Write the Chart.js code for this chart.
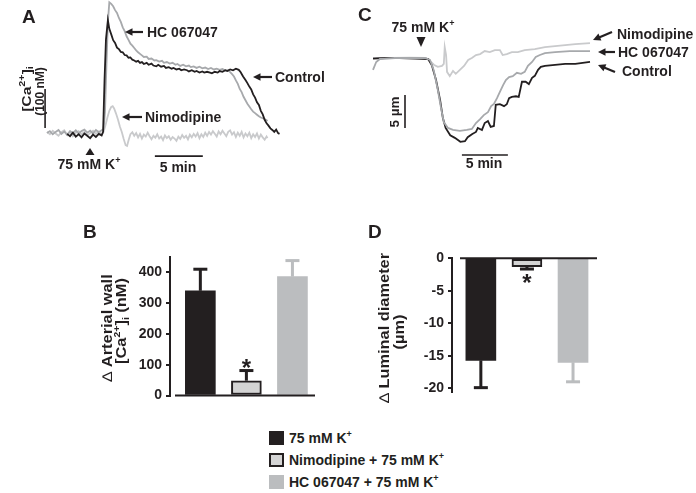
<!DOCTYPE html>
<html>
<head>
<meta charset="utf-8">
<title>K+ response, [Ca2+]i and luminal diameter</title>
<script src="https://cdn.jsdelivr.net/npm/chart.js@4.4.0/dist/chart.umd.min.js"></script>
<style>
    html, body { margin: 0; padding: 0; background: #fff; }
    #fig { position: relative; width: 696px; height: 493px; overflow: hidden; color: #231f20;
           font-family: 'Liberation Sans', Arial, Helvetica, sans-serif; }
    #fig canvas { position: absolute; }
    #cA { left: 0; top: 0; }
    #cC { left: 340px; top: 0; }
    #cB { left: 60px; top: 220px; }
    #cD { left: 340px; top: 220px; }
    .sw { position: absolute; left: 269px; width: 15px; height: 14px; box-sizing: border-box; }
    .lt { position: absolute; left: 289px; font-size: 14px; font-weight: bold; line-height: 16px; white-space: nowrap; }
    .sp { font-size: 9px; line-height: 0; position: relative; top: -6px; }
</style>
</head>
<body>
<div id="fig">
    <canvas id="cA" width="340" height="180"></canvas>
    <canvas id="cC" width="356" height="180"></canvas>
    <canvas id="cB" width="280" height="200"></canvas>
    <canvas id="cD" width="340" height="200"></canvas>
    <div id="legend"></div>
</div>
<script>
// ---- data -------------------------------------------------------------
// groups (bars in B and D, legend)
const groupNames = ['75 mM K+', 'Nimodipine + 75 mM K+', 'HC 067047 + 75 mM K+'];

// B: delta arterial wall [Ca2+]i (nM), mean and SEM
const caB = [340, 48, 386];
const caErrB = [70, 33, 52];
const ticksB = [0, 100, 200, 300, 400];

// D: delta luminal diameter (um), mean and SEM
const diamD = [-15.7, -1.3, -16.0];
const diamErrD = [4.2, 0.35, 3.0];
const ticksD = [0, -5, -10, -15, -20];

// A: [Ca2+]i traces, [time (min), delta nM]
const ctrlA = [[2.1,3],[2.4,-3],[2.7,6],[3.0,-4],[3.3,2],[3.6,-6],[3.9,4],[4.2,-2],[4.5,-8],[4.8,1],[5.1,-5],[5.4,3],[5.7,-1],[5.85,8],
    [6.0,140],[6.15,245],[6.35,294],[6.5,272],[6.7,258],[6.9,243],[7.1,236],[7.3,224],[7.5,220],[7.7,213],[7.9,212],[8.1,205],[8.3,204],
    [8.5,198],[8.7,199],[8.9,193],[9.1,191],[9.3,188],[9.5,190],[9.7,185],[9.9,187],[10.1,182],[10.4,185],[10.6,180],[10.9,183],
    [11.1,178],[11.4,176],[11.6,180],[11.9,175],[12.2,177],[12.4,172],[12.7,174],[13.0,170],[13.2,172],[13.5,168],[13.8,170],[14.0,166],
    [14.3,168],[14.6,166],[14.8,163],[15.1,166],[15.4,162],[15.6,164],[15.9,160],[16.2,163],[16.4,160],[16.7,162],[17.0,160],[17.2,158],
    [17.5,162],[17.8,160],[18.0,164],[18.3,162],[18.6,166],[18.8,164],[19.1,168],[19.4,166],[19.7,170],[20.0,167],[20.2,161],[20.45,150],
    [20.7,141],[20.9,133],[21.1,124],[21.3,117],[21.5,104],[21.7,96],[21.9,84],[22.1,77],[22.3,62],[22.5,53],[22.7,39],[22.9,30],
    [23.1,24],[23.3,17],[23.5,13],[23.7,8],[23.9,14],[24.1,5],[24.25,3]];
const hcA = [[0.0,5],[0.3,10],[0.6,2],[0.9,8],[1.2,13],[1.5,3],[1.8,9],[2.1,0],[2.4,10],[2.7,5],[3.0,12],[3.3,4],[3.6,10],[3.9,14],
    [4.2,6],[4.5,11],[4.8,4],[5.1,13],[5.4,7],[5.7,12],[5.9,15],[6.05,60],[6.2,180],[6.35,290],[6.5,340],[6.7,336],[6.9,330],[7.1,320],
    [7.3,313],[7.5,300],[7.7,290],[7.9,276],[8.1,266],[8.3,253],[8.5,244],[8.7,234],[8.9,229],[9.1,223],[9.3,217],[9.5,212],[9.7,208],
    [9.9,204],[10.1,200],[10.4,201],[10.6,195],[10.9,196],[11.2,191],[11.4,192],[11.7,188],[12.0,190],[12.2,185],[12.5,187],[12.8,183],
    [13.1,185],[13.4,180],[13.6,182],[13.9,177],[14.2,180],[14.5,176],[14.8,178],[15.0,174],[15.3,176],[15.6,172],[15.9,175],[16.2,171],
    [16.5,173],[16.8,169],[17.1,172],[17.4,168],[17.7,170],[18.0,167],[18.3,169],[18.6,165],[18.9,166],[19.1,161],[19.3,156],[19.5,150],
    [19.7,140],[19.9,131],[20.1,118],[20.3,110],[20.5,98],[20.7,89],[20.9,80],[21.1,73],[21.3,66],[21.5,60],[21.7,56],[21.9,52],[22.1,48],
    [22.3,45],[22.5,43],[22.7,41],[22.9,38],[23.0,36]];
const nimoA = [[0.0,8],[0.3,2],[0.6,11],[0.9,4],[1.2,-2],[1.5,7],[1.8,12],[2.1,1],[2.4,9],[2.7,-3],[3.0,6],[3.3,10],[3.6,2],[3.9,8],
    [4.2,-1],[4.5,5],[4.8,11],[5.1,3],[5.4,9],[5.7,0],[5.9,8],[6.1,25],[6.3,45],[6.5,62],[6.7,72],[6.85,74],[7.0,68],[7.2,55],[7.4,40],
    [7.6,22],[7.8,8],[8.0,-10],[8.2,-26],[8.35,-28],[8.5,-14],[8.7,2],[8.9,7],[9.1,-2],[9.3,5],[9.5,-6],[9.7,3],[9.9,-9],[10.1,1],[10.3,-4],
    [10.5,6],[10.7,-3],[10.9,-11],[11.1,-2],[11.3,-7],[11.5,2],[11.7,-9],[11.9,-4],[12.1,-13],[12.3,-1],[12.5,-8],[12.7,-3],[12.9,-12],
    [13.1,-5],[13.3,-9],[13.5,-15],[13.7,-4],[13.9,-10],[14.1,0],[14.3,-7],[14.5,-2],[14.7,-11],[14.9,1],[15.1,-6],[15.3,3],[15.5,-4],
    [15.7,5],[15.9,-8],[16.1,2],[16.3,-5],[16.5,6],[16.7,-2],[16.9,8],[17.1,1],[17.3,10],[17.5,3],[17.7,-4],[17.9,9],[18.1,2],[18.3,11],
    [18.5,4],[18.7,-3],[18.9,8],[19.1,12],[19.3,1],[19.5,7],[19.7,-5],[19.9,6],[20.1,-2],[20.3,8],[20.5,-6],[20.7,4],[20.9,-3],[21.1,6],
    [21.3,-8],[21.5,2],[21.7,-5],[21.9,4],[22.1,-9],[22.3,1],[22.5,-6],[22.7,-12],[22.9,-4],[23.0,-8]];

// C: diameter traces, [time (min), delta um]
const ctrlC = [[0.0,-0.1],[1.3,0],[2.9,0],[4.6,-0.1],[6.0,-0.15],[6.4,-1.1],[6.85,-3.3],[7.3,-6.4],[7.6,-9.1],[7.9,-10.6],[8.4,-11.7],
    [8.9,-12.1],[9.2,-12.4],[9.5,-12.7],[10.0,-12.6],[10.3,-12.0],[10.8,-11.5],[11.2,-11.2],[11.4,-10.6],[11.85,-10.9],[12.15,-9.85],
    [12.5,-9.55],[12.8,-10.45],[13.15,-10.3],[13.35,-7.1],[13.8,-7.0],[14.25,-7.3],[14.55,-7.0],[14.8,-6.1],[15.1,-5.9],[15.55,-5.8],
    [15.85,-5.9],[16.2,-3.6],[16.6,-3.6],[16.95,-3.95],[17.3,-3.0],[17.6,-2.7],[17.95,-1.8],[18.25,-1.35],[18.7,-1.2],[19.8,-1.05],
    [20.9,-0.9],[22.0,-0.9],[22.8,-0.75],[23.6,-0.6]];
const hcC = [[0.0,-1.8],[0.35,-0.6],[0.75,-0.15],[2.4,0],[4.0,0],[5.65,0],[6.2,-0.3],[6.6,-1.8],[7.05,-4.85],[7.4,-7.6],[7.7,-9.7],
    [8.15,-10.6],[8.7,-10.9],[9.45,-11.05],[10.2,-10.9],[10.75,-10.75],[11.2,-9.85],[11.65,-9.25],[12.05,-8.65],[12.5,-8.2],[12.85,-7.3],
    [13.15,-6.95],[13.5,-6.05],[13.8,-5.15],[14.15,-4.1],[14.45,-3.35],[14.8,-2.9],[15.2,-2.75],[15.65,-2.25],[16.1,-2.4],[16.5,-2.1],
    [16.85,-1.2],[17.3,-0.6],[17.7,0.15],[18.15,0.45],[18.7,0.75],[19.8,0.9],[21.4,1.05],[23.6,1.05]];
const nimoC = [[0.0,0],[1.85,0],[4.0,0.05],[5.75,0],[6.2,-0.45],[6.65,-1.05],[7.05,-1.35],[7.5,-1.2],[7.7,-0.9],[7.8,1.65],[7.95,0.45],
    [8.05,-2.1],[8.35,-2.75],[8.7,-1.95],[9.0,-2.4],[9.45,-1.8],[9.9,-1.2],[10.35,-0.3],[10.75,0],[11.2,0.45],[11.65,0.6],[12.15,1.05],
    [12.7,0.9],[13.25,1.2],[13.8,1.2],[14.1,0.45],[14.55,0.6],[15.1,0.9],[15.75,0.9],[16.5,1.2],[17.6,1.35],[18.7,1.65],[19.8,1.8],
    [20.9,1.95],[22.0,2.1],[23.6,2.25]];

// ---- styling ----------------------------------------------------------
const INK = '#231f20', MID = '#a7a9ac', PALE = '#c9cacc';
const FILLS = [INK, '#d4d4d4', '#bbbdbf'];
const EDGES = [INK, INK, '#bbbdbf'];
const FONT = "'Liberation Sans', Arial, Helvetica, sans-serif";

Chart.defaults.font.family = FONT;
Chart.defaults.color = INK;

// text with optional sup/sub pieces; parts: 'txt' or ['txt', 'sup'|'sub'|'thin']
function rich(ctx, parts, x, y, size, align, supRatio) {
    const r = supRatio || 0.62;
    const kind = p => (Array.isArray(p) ? p[1] : '');
    const str = p => (Array.isArray(p) ? p[0] : p);
    const fontOf = k => (k === 'thin' ? '' : 'bold ') +
        (k === 'sup' || k === 'sub' ? Math.round(size * r) : size) + 'px ' + FONT;
    let w = 0;
    parts.forEach(p => { ctx.font = fontOf(kind(p)); w += ctx.measureText(str(p)).width; });
    let cx = align === 'center' ? x - w / 2 : (align === 'right' ? x - w : x);
    ctx.textAlign = 'left';
    ctx.textBaseline = 'alphabetic';
    parts.forEach(p => {
        const k = kind(p);
        ctx.font = fontOf(k);
        const dy = k === 'sup' ? -size * 0.42 : (k === 'sub' ? size * 0.22 : 0);
        ctx.fillText(str(p), cx, y + dy);
        cx += ctx.measureText(str(p)).width;
    });
}

// rotated (bottom to top); x is the baseline, y the centre; stretch along the text
function vrich(ctx, parts, x, y, size, stretch, supRatio) {
    ctx.save();
    ctx.translate(x, y);
    ctx.rotate(-Math.PI / 2);
    ctx.scale(stretch || 1, 1);
    rich(ctx, parts, 0, 0, size, 'center', supRatio);
    ctx.restore();
}

function line(ctx, x1, y1, x2, y2, w) {
    ctx.lineWidth = w || 1.6;
    ctx.beginPath();
    ctx.moveTo(x1, y1);
    ctx.lineTo(x2, y2);
    ctx.stroke();
}

// tail (x1,y1) -> head (x2,y2)
function arrow(ctx, x1, y1, x2, y2) {
    const a = Math.atan2(y2 - y1, x2 - x1), L = 7.5, W = 3.8;
    line(ctx, x1, y1, x2 - Math.cos(a) * 4, y2 - Math.sin(a) * 4, 2.2);
    ctx.beginPath();
    ctx.moveTo(x2, y2);
    ctx.lineTo(x2 - L * Math.cos(a) + W * Math.sin(a), y2 - L * Math.sin(a) - W * Math.cos(a));
    ctx.lineTo(x2 - L * Math.cos(a) - W * Math.sin(a), y2 - L * Math.sin(a) + W * Math.cos(a));
    ctx.closePath();
    ctx.fill();
}

function tri(ctx, x, tipY, baseY) {
    ctx.beginPath();
    ctx.moveTo(x, tipY);
    ctx.lineTo(x - 4.5, baseY);
    ctx.lineTo(x + 4.5, baseY);
    ctx.closePath();
    ctx.fill();
}

const K75 = ['75 mM K', ['+', 'sup']];

function trace(arr, color) {
    return {
        data: arr.map(p => ({ x: p[0], y: p[1] })),
        borderColor: color, borderWidth: 1.8, pointRadius: 0,
        tension: 0, fill: false, clip: 8
    };
}

function traceOptions(padding, xr, yr) {
    return {
        responsive: false, animation: false, events: [],
        layout: { padding: padding },
        plugins: { legend: { display: false }, tooltip: { enabled: false } },
        scales: {
            x: { type: 'linear', display: false, min: xr[0], max: xr[1] },
            y: { type: 'linear', display: false, min: yr[0], max: yr[1] }
        }
    };
}

// ---- A: [Ca2+]i traces ------------------------------------------------
const notesA = {
    id: 'notesA',
    afterDraw(chart) {
        const { ctx, scales: { x, y } } = chart;
        ctx.save();
        ctx.fillStyle = INK;
        ctx.strokeStyle = INK;
        rich(ctx, ['A'], 22, 23, 19);
        // scale bars: 5 min, 100 nM
        line(ctx, x.getPixelForValue(11.25), y.getPixelForValue(-54), x.getPixelForValue(16.25), y.getPixelForValue(-54));
        line(ctx, x.getPixelForValue(-0.2), y.getPixelForValue(18), x.getPixelForValue(-0.2), y.getPixelForValue(118));
        rich(ctx, ['5 min'], 178, 172, 14, 'center');
        vrich(ctx, ['[Ca', ['2+', 'sup'], ']', ['i', 'sub']], 30.5, 89, 13, 1.2, 0.72);
        vrich(ctx, ['(100 nM)'], 43.5, 91.5, 12);
        tri(ctx, 90, 148, 155);
        rich(ctx, K75, 89, 169, 14, 'center');
        arrow(ctx, 143, 32, 125, 32);
        rich(ctx, ['HC 067047'], 147, 37, 14);
        arrow(ctx, 272, 77, 253, 77);
        rich(ctx, ['Control'], 275, 82, 14);
        arrow(ctx, 142, 117, 122, 117);
        rich(ctx, ['Nimodipine'], 145, 122, 14);
        ctx.restore();
    }
};

new Chart(document.getElementById('cA'), {
    type: 'line',
    data: { datasets: [trace(ctrlA, INK), trace(hcA, MID), trace(nimoA, PALE)] },
    options: traceOptions({ left: 47, right: 60, top: 0, bottom: 20 }, [0, 24.3], [-64, 346]),
    plugins: [notesA]
});

// ---- C: diameter traces -----------------------------------------------
const notesC = {
    id: 'notesC',
    afterDraw(chart) {
        const { ctx, scales: { x, y } } = chart;
        ctx.save();
        ctx.fillStyle = INK;
        ctx.strokeStyle = INK;
        rich(ctx, ['C'], 18, 21, 19);
        rich(ctx, K75, 83, 32, 14, 'center');
        tri(ctx, 81, 47, 37);
        // scale bars: 5 min, 5 um
        line(ctx, x.getPixelForValue(9.67), y.getPixelForValue(-14.7), x.getPixelForValue(14.67), y.getPixelForValue(-14.7));
        line(ctx, x.getPixelForValue(3.48), y.getPixelForValue(-10.6), x.getPixelForValue(3.48), y.getPixelForValue(-5.6));
        rich(ctx, ['5 min'], 144, 168, 14, 'center');
        vrich(ctx, ['5 \u00b5m'], 59, 112, 13.5);
        arrow(ctx, 272, 32, 253, 40);
        rich(ctx, ['Nimodipine'], 277, 39, 14);
        arrow(ctx, 275, 52, 258, 52);
        rich(ctx, ['HC 067047'], 278, 57, 14);
        arrow(ctx, 275, 72, 258, 65);
        rich(ctx, ['Control'], 282, 76, 14);
        ctx.restore();
    }
};

new Chart(document.getElementById('cC'), {
    type: 'line',
    data: { datasets: [trace(hcC, MID), trace(ctrlC, INK), trace(nimoC, PALE)] },
    options: traceOptions({ left: 33, right: 106, top: 31.6, bottom: 23 }, [0, 23.6], [-15, 4]),
    plugins: [notesC]
});

// ---- B and D: bar charts ----------------------------------------------
// error bars, star, baseline and titles
const barNotes = {
    id: 'barNotes',
    afterDatasetsDraw(chart, args, o) {
        const { ctx, chartArea, scales: { y } } = chart;
        const meta = chart.getDatasetMeta(0);
        const ds = chart.data.datasets[0];
        ctx.save();
        meta.data.forEach((bar, i) => {
            const v = ds.data[i].y;
            const end = v + Math.sign(v) * o.err[i];
            const y0 = y.getPixelForValue(v), y1 = y.getPixelForValue(end);
            ctx.strokeStyle = EDGES[i];
            line(ctx, bar.x, y0, bar.x, y1, 3);
            line(ctx, bar.x - 7, y1, bar.x + 7, y1, 3);
            if (i === o.star) {
                ctx.fillStyle = INK;
                rich(ctx, ['*'], bar.x, y1 + o.starDy, 24, 'center');
            }
        });
        ctx.strokeStyle = INK;
        const y0 = y.getPixelForValue(0);
        line(ctx, chartArea.left + o.gap, y0, chartArea.right, y0, 2);
        ctx.fillStyle = INK;
        rich(ctx, [o.letter], o.letterX, 18, 19);
        o.titles.forEach(t => vrich(ctx, t.parts, t.x, t.y, 14, 1.17));
        ctx.restore();
    }
};

function barConfig(values, ticks, yr, xr, yWidth, padding, notes) {
    return {
        type: 'bar',
        data: {
            labels: groupNames,
            datasets: [{
                data: values.map((v, i) => ({ x: i + 1, y: v })),
                backgroundColor: FILLS,
                borderColor: INK,
                borderWidth: [0, 2, 0],
                borderSkipped: false,
                barThickness: 30
            }]
        },
        options: {
            responsive: false, animation: false, events: [],
            layout: { padding: padding },
            plugins: { legend: { display: false }, tooltip: { enabled: false }, barNotes: notes },
            scales: {
                x: { type: 'linear', display: false, offset: false, bounds: 'data', min: xr[0], max: xr[1] },
                y: {
                    min: yr[0], max: yr[1],
                    afterFit: s => { s.width = yWidth; },
                    afterBuildTicks: s => { s.ticks = ticks.map(v => ({ value: v })); },
                    border: { display: true, color: INK, width: 2 },
                    grid: { drawOnChartArea: false, drawTicks: true, tickLength: 4, color: INK, lineWidth: 2 },
                    ticks: { color: INK, padding: 4, font: { size: 14, weight: 'bold' } }
                }
            }
        },
        plugins: [barNotes]
    };
}

// B canvas starts at x = 60
new Chart(document.getElementById('cB'), barConfig(caB, ticksB, [0, 450], [0.341, 3.49], 110,
    { left: 0, right: 25, top: 36.9, bottom: 24.5 },
    {
        err: caErrB, star: 1, starDy: 5, gap: 5, letter: 'B', letterX: 23,
        titles: [
            { parts: [['\u2206 ', 'thin'], 'Arterial wall'], x: 52, y: 108 },
            { parts: ['[Ca', ['2+', 'sup'], ']', ['i', 'sub'], ' (nM)'], x: 66, y: 101 }
        ]
    }));

// D canvas starts at x = 340
new Chart(document.getElementById('cD'), barConfig(diamD, ticksD, [-20.5, 0], [0.374, 3.52], 112,
    { left: 0, right: 83, top: 38.3, bottom: 28.45 },
    {
        err: diamErrD, star: 1, starDy: 21.5, gap: 8, letter: 'D', letterX: 28,
        titles: [
            { parts: [['\u2206 ', 'thin'], 'Luminal diameter'], x: 49, y: 108 },
            { parts: ['(\u00b5m)'], x: 64, y: 112 }
        ]
    }));

// ---- legend -----------------------------------------------------------
(function () {
    const box = document.getElementById('legend');
    const rows = [431, 453, 475];
    groupNames.forEach((name, i) => {
        const sw = document.createElement('div');
        sw.className = 'sw';
        sw.style.top = rows[i] + 'px';
        sw.style.background = FILLS[i];
        if (i === 1) sw.style.border = '2px solid ' + INK;
        box.appendChild(sw);
        const t = document.createElement('div');
        t.className = 'lt';
        t.style.top = (rows[i] - 1) + 'px';
        t.textContent = name.replace(/\+$/, '');
        const s = document.createElement('span');
        s.className = 'sp';
        s.textContent = '+';
        t.appendChild(s);
        box.appendChild(t);
    });
})();
</script>
</body>
</html>
